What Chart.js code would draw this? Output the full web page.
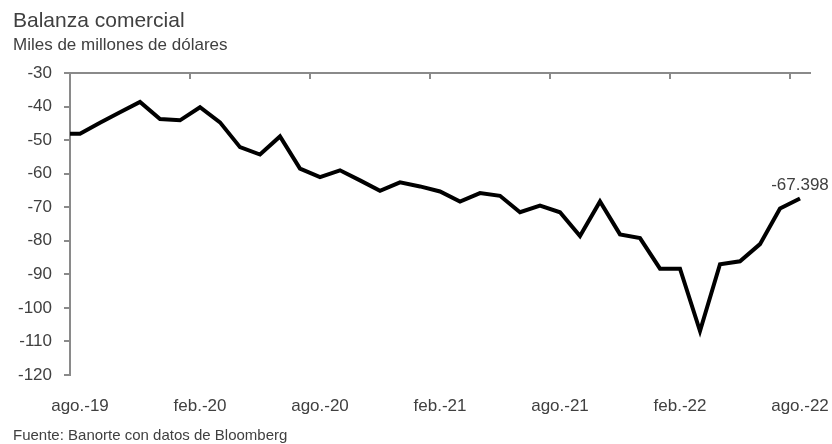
<!DOCTYPE html>
<html lang="es">
<head>
<meta charset="utf-8">
<title>Balanza comercial</title>
<script src="https://cdn.jsdelivr.net/npm/chart.js@4.4.1/dist/chart.umd.min.js"></script>
<style>
  html, body { margin: 0; padding: 0; background: #ffffff; }
  #wrap { position: relative; width: 832px; height: 444px; overflow: hidden;
          font-family: "Liberation Sans", Arial, sans-serif; color: #404040; }
  #chart { position: absolute; left: 0; top: 0; }
  .txt { position: absolute; left: 13px; line-height: 1; white-space: nowrap; }
  #title { top: 8.7px; font-size: 21px; }
  #subtitle { top: 35.6px; font-size: 17px; }
  #source { top: 427.3px; font-size: 15px; }
</style>
</head>
<body>
<div id="wrap">
  <canvas id="chart" width="832" height="444"></canvas>
  <div class="txt" id="title">Balanza comercial</div>
  <div class="txt" id="subtitle">Miles de millones de dólares</div>
  <div class="txt" id="source">Fuente: Banorte con datos de Bloomberg</div>
</div>
<script>
// Months shown on the category axis (jul.-19 only feeds the clipped lead-in segment)
const months = [
  'jul.-19',
  'ago.-19', 'sep.-19', 'oct.-19', 'nov.-19', 'dic.-19',
  'ene.-20', 'feb.-20', 'mar.-20', 'abr.-20', 'may.-20', 'jun.-20', 'jul.-20',
  'ago.-20', 'sep.-20', 'oct.-20', 'nov.-20', 'dic.-20',
  'ene.-21', 'feb.-21', 'mar.-21', 'abr.-21', 'may.-21', 'jun.-21', 'jul.-21',
  'ago.-21', 'sep.-21', 'oct.-21', 'nov.-21', 'dic.-21',
  'ene.-22', 'feb.-22', 'mar.-22', 'abr.-22', 'may.-22', 'jun.-22', 'jul.-22',
  'ago.-22'
];

// Monthly trade balance, billions of dollars
const balance = [
  -48.1,
  -48.1, -44.8, -41.7, -38.6, -43.7,
  -44.1, -40.2, -44.7, -52.1, -54.3, -48.9, -58.5,
  -61.0, -59.0, -62.0, -65.1, -62.6,
  -63.8, -65.3, -68.3, -65.8, -66.6, -71.5, -69.5,
  -71.5, -78.6, -68.3, -78.1, -79.2,
  -88.3, -88.3, -106.9, -87.0, -86.1, -81.0, -70.4,
  -67.398
];

// Value axis
const yMin = -120;
const yMax = -30;
const yStep = 10;

// Every sixth month gets a label and a tick mark
const labelEvery = 6;
const firstMonth = 'ago.-19';

const axisGray = '#8a8a8a';
const textGray = '#404040';
const tickFont = { family: '"Liberation Sans", Arial, sans-serif', size: 17 };

// Writes the latest value above the final point of the line
const lastValueLabel = {
  id: 'lastValueLabel',
  afterDatasetsDraw(chart) {
    const meta = chart.getDatasetMeta(0);
    const i = balance.length - 1;
    const pt = meta.data[i];
    const ctx = chart.ctx;
    ctx.save();
    ctx.font = '17px "Liberation Sans", Arial, sans-serif';
    ctx.fillStyle = textGray;
    ctx.textAlign = 'center';
    ctx.textBaseline = 'alphabetic';
    ctx.fillText(balance[i].toFixed(3), pt.x, pt.y - 8);
    ctx.restore();
  }
};

new Chart(document.getElementById('chart'), {
  type: 'line',
  data: {
    labels: months,
    datasets: [{
      data: balance,
      borderColor: '#000000',
      borderWidth: 4,
      borderJoinStyle: 'miter',
      borderCapStyle: 'butt',
      pointRadius: 0,
      pointHoverRadius: 0,
      tension: 0,
      fill: false,
      xAxisID: 'x',
      yAxisID: 'y'
    }]
  },
  options: {
    responsive: false,
    animation: false,
    events: [],
    layout: { padding: { top: 73, right: 22, bottom: 0, left: 0 } },
    plugins: {
      legend: { display: false },
      tooltip: { enabled: false },
      title: { display: false }
    },
    scales: {
      x: {
        type: 'category',
        position: 'bottom',
        min: firstMonth,
        offset: true,
        border: { display: false },
        grid: { display: false, drawTicks: false },
        ticks: {
          autoSkip: false,
          maxRotation: 0,
          padding: 21,
          color: textGray,
          font: tickFont,
          callback: function (value, index) {
            return index % labelEvery === 0 ? this.getLabelForValue(value) : '';
          }
        },
        afterFit: s => { s.height = 69; s.paddingLeft = 0; s.paddingRight = 0; }
      },
      x2: {
        type: 'category',
        position: 'top',
        min: firstMonth,
        offset: true,
        border: { display: true, color: axisGray, width: 2 },
        grid: {
          offset: true,
          drawOnChartArea: false,
          drawTicks: true,
          tickLength: -6,
          lineWidth: 2,
          tickColor: ctx => (ctx.index % labelEvery === 0 ? axisGray : 'rgba(0,0,0,0)'),
          color: 'rgba(0,0,0,0)'
        },
        ticks: { display: false },
        afterFit: s => { s.height = 0; }
      },
      y: {
        type: 'linear',
        position: 'left',
        min: yMin,
        max: yMax,
        border: { display: true, color: axisGray, width: 2 },
        grid: {
          drawOnChartArea: false,
          drawTicks: true,
          tickLength: 6,
          lineWidth: 2,
          color: axisGray,
          tickColor: axisGray
        },
        ticks: {
          stepSize: yStep,
          padding: 12,
          color: textGray,
          font: tickFont
        },
        afterFit: s => { s.width = 70; }
      }
    }
  },
  plugins: [lastValueLabel]
});
</script>
</body>
</html>
